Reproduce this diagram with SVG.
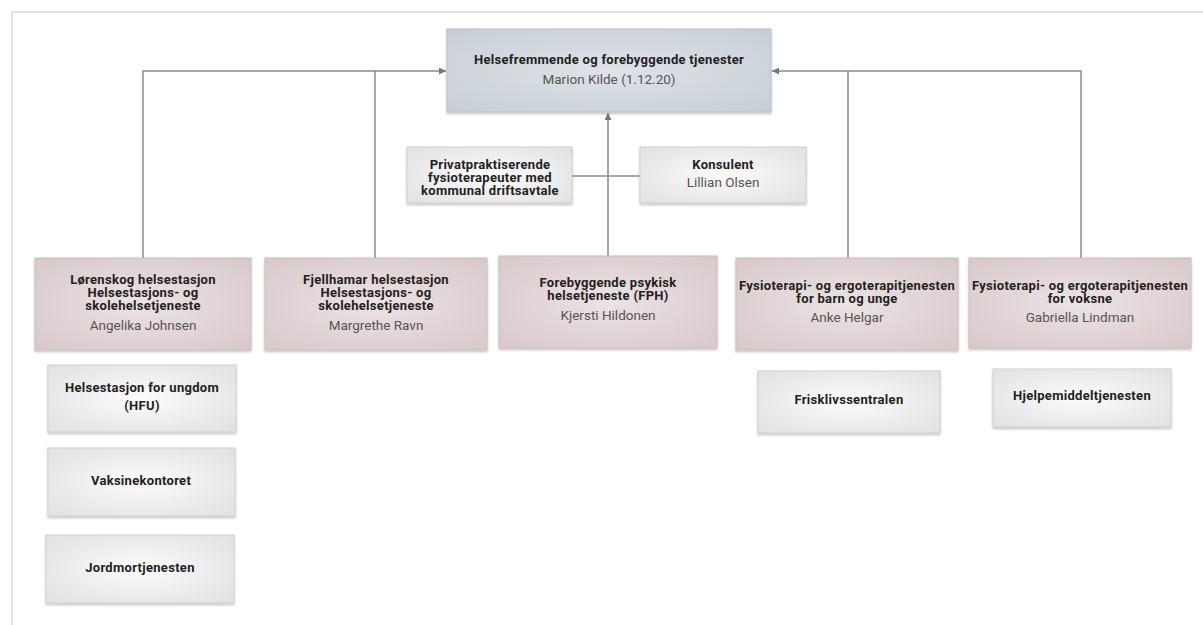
<svg xmlns="http://www.w3.org/2000/svg" width="1203" height="625" viewBox="0 0 1203 625">
<defs>
<style>
.t{font-family:Roboto,"Liberation Sans",sans-serif;font-size:13px;font-weight:700;fill:#222;text-anchor:middle;letter-spacing:0.3px}
.n{font-family:Roboto,"Liberation Sans",sans-serif;font-size:13.5px;fill:#555;text-anchor:middle}
.c{fill:none;stroke:#8a8a8a;stroke-width:1.5}
.top{fill:url(#gTop);stroke:#b9c0c8;stroke-width:1}
.mid{fill:url(#gMid);stroke:#cdbcbe;stroke-width:1}
.sub{fill:url(#gSub);stroke:#cfcfcf;stroke-width:1}
</style>
<radialGradient id="gTop" cx="0.5" cy="0.5" r="0.7">
<stop offset="0" stop-color="#dfe3e8"/><stop offset="1" stop-color="#c7ced6"/>
</radialGradient>
<radialGradient id="gMid" cx="0.5" cy="0.5" r="0.7">
<stop offset="0" stop-color="#ebe3e4"/><stop offset="1" stop-color="#d8c8ca"/>
</radialGradient>
<radialGradient id="gSub" cx="0.5" cy="0.5" r="0.7">
<stop offset="0" stop-color="#fbfbfb"/><stop offset="1" stop-color="#e1e1e1"/>
</radialGradient>
<filter id="sh" x="-5%" y="-5%" width="110%" height="115%">
<feDropShadow dx="0" dy="1.5" stdDeviation="1" flood-color="#000" flood-opacity="0.25"/>
</filter>
<marker id="ar" viewBox="0 0 10 10" refX="10" refY="5" markerWidth="7" markerHeight="7" orient="auto" markerUnits="userSpaceOnUse">
<path d="M0,0 L10,5 L0,10 z" fill="#777"/>
</marker>
</defs>
<rect width="1203" height="625" fill="#fff"/>
<path d="M12,625 V12 H1203" fill="none" stroke="#e2e2e2" stroke-width="2"/>

<g id="connectors">
<path class="c" d="M143,258 V71 H446" marker-end="url(#ar)"/>
<path class="c" d="M375,258 V71"/>
<path class="c" d="M1081,258 V71 H772" marker-end="url(#ar)"/>
<path class="c" d="M848,258 V71"/>
<path class="c" d="M608,256 V113" marker-end="url(#ar)"/>
<path class="c" d="M572,176 H640"/>
</g>

<g id="n-top">
<rect class="top" x="447" y="29" width="324" height="83" filter="url(#sh)"/>
<text class="t" x="609" y="64">Helsefremmende og forebyggende tjenester</text>
<text class="n" x="609" y="84">Marion Kilde (1.12.20)</text>
</g>

<g id="n-privat">
<rect class="sub" x="407" y="147" width="165" height="56" filter="url(#sh)"/>
<text class="t" x="490" y="169">Privatpraktiserende</text>
<text class="t" x="490" y="182">fysioterapeuter med</text>
<text class="t" x="490" y="195">kommunal driftsavtale</text>
</g>

<g id="n-konsulent">
<rect class="sub" x="640" y="147" width="166" height="56" filter="url(#sh)"/>
<text class="t" x="723" y="169">Konsulent</text>
<text class="n" x="723" y="187">Lillian Olsen</text>
</g>

<g id="n-lorenskog">
<rect class="mid" x="35" y="258" width="216" height="92" filter="url(#sh)"/>
<text class="t" x="143" y="284">Lørenskog helsestasjon</text>
<text class="t" x="143" y="297">Helsestasjons- og</text>
<text class="t" x="143" y="310">skolehelsetjeneste</text>
<text class="n" x="143" y="330">Angelika Johnsen</text>
</g>

<g id="n-fjellhamar">
<rect class="mid" x="265" y="258" width="222" height="92" filter="url(#sh)"/>
<text class="t" x="376" y="284">Fjellhamar helsestasjon</text>
<text class="t" x="376" y="297">Helsestasjons- og</text>
<text class="t" x="376" y="310">skolehelsetjeneste</text>
<text class="n" x="376" y="330">Margrethe Ravn</text>
</g>

<g id="n-fph">
<rect class="mid" x="499" y="256" width="218" height="92" filter="url(#sh)"/>
<text class="t" x="608" y="287">Forebyggende psykisk</text>
<text class="t" x="608" y="300">helsetjeneste (FPH)</text>
<text class="n" x="608" y="320">Kjersti Hildonen</text>
</g>

<g id="n-fysbarn">
<rect class="mid" x="736" y="258" width="222" height="92" filter="url(#sh)"/>
<text class="t" x="847" y="290">Fysioterapi- og ergoterapitjenesten</text>
<text class="t" x="847" y="303">for barn og unge</text>
<text class="n" x="847" y="322">Anke Helgar</text>
</g>

<g id="n-fysvoksne">
<rect class="mid" x="969" y="258" width="222" height="90" filter="url(#sh)"/>
<text class="t" x="1080" y="290">Fysioterapi- og ergoterapitjenesten</text>
<text class="t" x="1080" y="303">for voksne</text>
<text class="n" x="1080" y="322">Gabriella Lindman</text>
</g>

<g id="n-hfu">
<rect class="sub" x="48" y="365" width="188" height="67" filter="url(#sh)"/>
<text class="t" x="142" y="392">Helsestasjon for ungdom</text>
<text class="t" x="142" y="410">(HFU)</text>
</g>

<g id="n-vaksine">
<rect class="sub" x="48" y="448" width="187" height="68" filter="url(#sh)"/>
<text class="t" x="141" y="485">Vaksinekontoret</text>
</g>

<g id="n-jordmor">
<rect class="sub" x="46" y="535" width="188" height="68" filter="url(#sh)"/>
<text class="t" x="140" y="572">Jordmortjenesten</text>
</g>

<g id="n-frisk">
<rect class="sub" x="758" y="371" width="182" height="62" filter="url(#sh)"/>
<text class="t" x="849" y="404">Frisklivssentralen</text>
</g>

<g id="n-hjelpe">
<rect class="sub" x="993" y="369" width="178" height="58" filter="url(#sh)"/>
<text class="t" x="1082" y="400">Hjelpemiddeltjenesten</text>
</g>
</svg>
